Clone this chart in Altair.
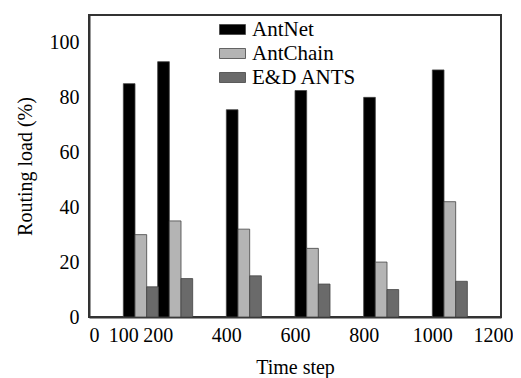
import altair as alt
import pandas as pd

time_steps = [100, 200, 400, 600, 800, 1000]
series = ["AntNet", "AntChain", "E&D ANTS"]
antnet = [85, 93, 75.5, 82.5, 80, 90]
antchain = [30, 35, 32, 25, 20, 42]
edants = [11, 14, 15, 12, 10, 13]
x_ticks = [0, 100, 200, 400, 600, 800, 1000, 1200]
y_ticks = [0, 20, 40, 60, 80, 100]
colors = ["#000000", "#b4b4b4", "#6a6a6a"]

bar_w = 34
rows = []
for k, (name, vals) in enumerate(zip(series, [antnet, antchain, edants])):
    for t, v in zip(time_steps, vals):
        rows.append({"series": name, "order": k, "x": t + k * bar_w,
                     "x2": t + (k + 1) * bar_w, "value": v})
df = pd.DataFrame(rows)

font = "Liberation Serif"

chart = alt.Chart(df).mark_bar(stroke="#444444", strokeWidth=0.8).encode(
    x=alt.X("x:Q", scale=alt.Scale(domain=[0, 1200], nice=False, zero=False),
            axis=alt.Axis(values=x_ticks, title="Time step", grid=False,
                          format="d", ticks=False, labelPadding=8,
                          titlePadding=12, labelFlush=False,
                          labelAlign=alt.expr("datum.value == 0 ? 'left' : datum.value == 1200 ? 'right' : 'center'"),
                          labelOffset=alt.expr("datum.value == 1200 ? 12 : 0"))),
    x2="x2:Q",
    y=alt.Y("value:Q", scale=alt.Scale(domain=[0, 110], nice=False),
            axis=alt.Axis(values=y_ticks, title="Routing load (%)", grid=False,
                          ticks=False, labelPadding=10, titlePadding=14)),
    y2=alt.datum(0),
    color=alt.Color("series:N", sort=series,
                    scale=alt.Scale(domain=series, range=colors),
                    legend=alt.Legend(title=None, orient="none", legendX=133,
                                      legendY=4,
                                      symbolType="M-1.3,-0.5H1.3V0.5H-1.3Z",
                                      symbolSize=400, rowPadding=2,
                                      labelOffset=9,
                                      symbolStrokeColor="#444444",
                                      symbolStrokeWidth=0.8,
                                      labelFontSize=21, labelFont=font,
                                      labelColor="#000000")),
    order="order:Q",
).properties(
    width=412, height=302,
    autosize=alt.AutoSizeParams(type="none"),
    padding={"left": 81, "top": 7, "right": 12, "bottom": 61},
).configure_view(
    stroke="#333333", strokeWidth=2
).configure_axis(
    labelFont=font, titleFont=font, labelFontSize=20, titleFontSize=20,
    labelColor="#000000", titleColor="#000000", titleFontWeight="normal",
    domainColor="#333333", domainWidth=2
)

chart.save("out.html", embed_options={"renderer": "svg", "actions": False})
